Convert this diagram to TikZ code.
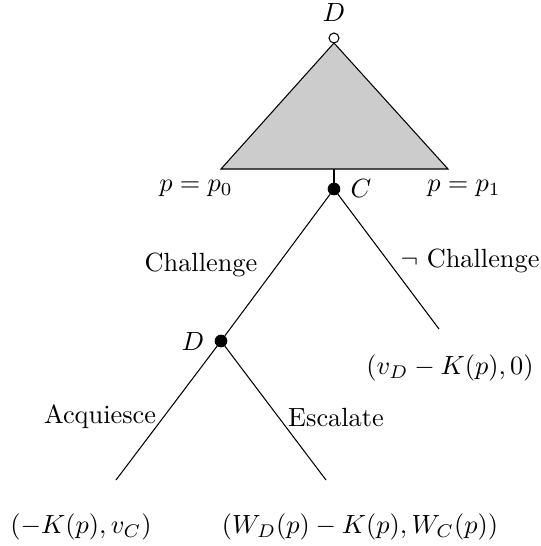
\documentclass[tikz,border=0pt]{standalone}
\usepackage{amssymb}
\begin{document}
\begin{tikzpicture}[x=0.38pt,y=-0.38pt,
  opendot/.style={circle,draw,fill=white,inner sep=0pt,minimum size=3.8pt,line width=0.4pt},
  fulldot/.style={circle,draw,fill=black,inner sep=0pt,minimum size=4.4pt},
  lbl/.style={inner sep=0pt},
  edge/.style={draw,line width=0.4pt}]
\useasboundingbox (0,0) rectangle (540,546);
% triangle
\coordinate (apex) at (334,43);
\coordinate (bl) at (221,169);
\coordinate (br) at (448,169);
\coordinate (bm) at (334,169);
\filldraw[fill=black!20,line width=0.4pt] (apex) -- (bl) -- (br) -- cycle;
\node[opendot] (root) at (334,38) {};
\node[lbl] (rootlbl) at (334,13) {$D$};
\node[fulldot] (c) at (334,189) {};
\node[lbl] (clbl) at (361,189) {$C$};
\draw[edge] (bm) -- (c);
\node[lbl] (p0) at (196,188) {$p=p_0$};
\node[lbl] (p1) at (464,188) {$p=p_1$};
% second level
\node[fulldot] (d) at (221,341) {};
\node[lbl] (dlbl) at (193,342) {$D$};
\coordinate (nc) at (439,329);
\draw[edge] (c) -- (d);
\draw[edge] (c) -- (nc);
\node[lbl] (chal) at (201,265) {Challenge};
\node[lbl] (nchal) at (470,261) {$\neg$ Challenge};
\node[lbl] (pay1) at (450,368) {$(v_D-K(p),0)$};
% third level
\coordinate (acq) at (116,480);
\coordinate (esc) at (326,480);
\draw[edge] (d) -- (acq);
\draw[edge] (d) -- (esc);
\node[lbl] (acqlbl) at (100,417) {Acquiesce};
\node[lbl] (esclbl) at (336,418) {Escalate};
\node[lbl] (pay2) at (81,527) {$(-K(p),v_C)$};
\node[lbl] (pay3) at (360,527) {$(W_D(p)-K(p),W_C(p))$};
\end{tikzpicture}
\end{document}
